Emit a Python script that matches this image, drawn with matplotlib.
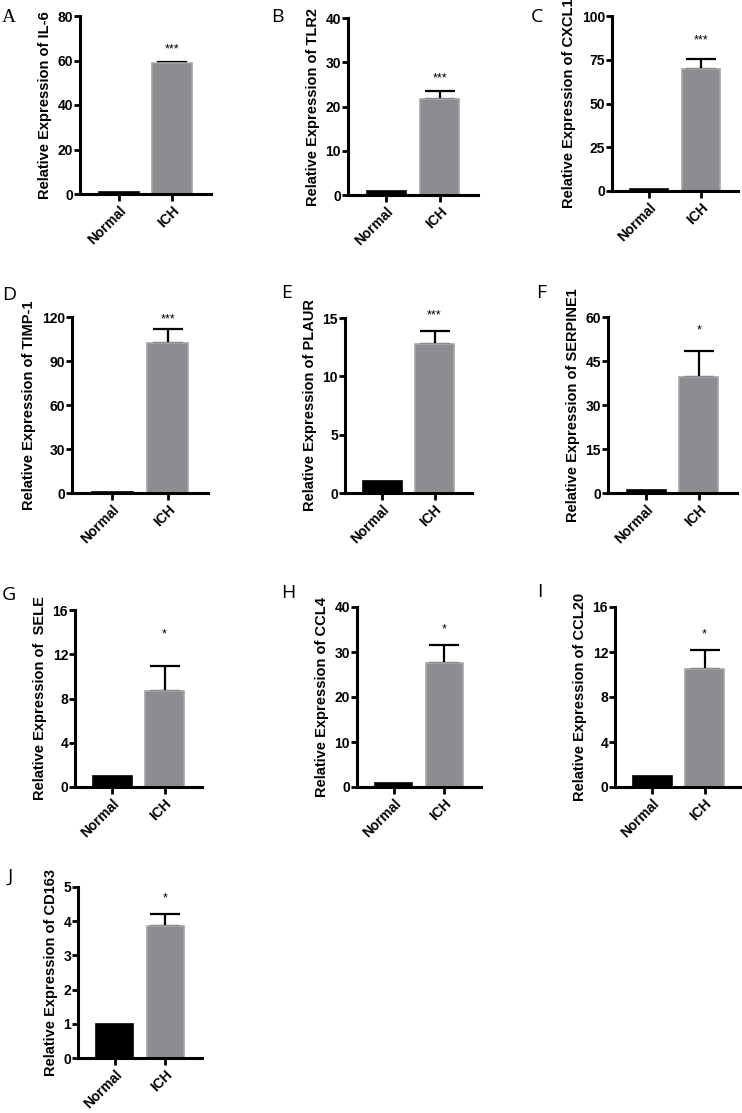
import matplotlib
matplotlib.use("Agg")
import matplotlib.pyplot as plt

groups = ["Normal", "ICH"]
genes = ["IL-6", "TLR2", "CXCL1", "TIMP-1", "PLAUR", "SERPINE1", " SELE", "CCL4", "CCL20", "CD163"]
letters = ["A", "B", "C", "D", "E", "F", "G", "H", "I", "J"]
normal_vals = [1, 1, 1, 1, 1, 1, 1, 1, 1, 1]
ich_vals = [59.0, 21.8, 70.0, 102.0, 12.8, 39.5, 8.7, 27.5, 10.5, 3.85]
ich_err = [0.3, 1.7, 5.5, 9.5, 1.1, 8.8, 2.2, 4.1, 1.7, 0.35]
stars = ["***", "***", "***", "***", "***", "*", "*", "*", "*", "*"]
y_max = [80, 40, 100, 120, 15, 60, 16, 40, 16, 5]
y_step = [20, 10, 25, 30, 5, 15, 4, 10, 4, 1]

W, H = 742, 1113
# axes boxes in pixels: left, right, top, bottom
boxes = [(80, 211, 16, 194), (348, 478, 18, 195), (612, 738, 16, 191),
         (72, 208, 317, 493), (345, 472, 318, 493), (608, 737, 317, 493),
         (75, 202, 610, 787), (357, 481, 607, 787), (615, 742, 607, 787),
         (78, 202, 887, 1058)]
letter_pos = [(2, 9), (271, 8), (531, 8), (2, 286), (281, 284), (536, 284),
              (2, 586), (281, 584), (537, 583), (8, 868)]
star_off = [5, 5, 9, 3, 7, 11, 19, 7, 7, 7]

fig = plt.figure(figsize=(W / 100, H / 100), dpi=100)

for i in range(10):
    l, r, t, b = boxes[i]
    ax = fig.add_axes([l / W, 1 - b / H, (r - l) / W, (b - t) / H])
    ax.errorbar([1], [ich_vals[i]], yerr=[[0], [ich_err[i]]], fmt="none",
                ecolor="black", elinewidth=1.6, capsize=10.5, capthick=1.6, zorder=1)
    ax.bar([0, 1], [normal_vals[i], ich_vals[i]], width=0.74,
           color=["black", "#8d8d91"], edgecolor=["black", "#a6a6aa"],
           linewidth=1.2, zorder=2)
    ax.annotate(stars[i], (1, ich_vals[i] + ich_err[i]), xytext=(0, star_off[i]),
                textcoords="offset points", ha="center", va="bottom",
                fontsize=9, family="Liberation Sans")
    ax.set_xlim(-0.72, 1.72)
    ax.set_ylim(0, y_max[i])
    ax.set_yticks(range(0, y_max[i] + 1, y_step[i]))
    ax.set_xticks([0, 1])
    ax.set_xticklabels(groups, rotation=45, ha="right", rotation_mode="anchor",
                       fontsize=10, fontweight="bold", family="Liberation Sans")
    for lab in ax.get_yticklabels():
        lab.set_fontsize(10)
        lab.set_fontweight("bold")
        lab.set_family("Liberation Sans")
    ax.set_ylabel("Relative Expression of " + genes[i], fontsize=10.5,
                  fontweight="bold", family="Liberation Sans", labelpad=4)
    for s in ["top", "right"]:
        ax.spines[s].set_visible(False)
    for s in ["left", "bottom"]:
        ax.spines[s].set_linewidth(2.2)
    ax.tick_params(axis="both", width=2, length=4, pad=1)
    ax.tick_params(axis="x", length=5, pad=2)

    lx, ly = letter_pos[i]
    fam = "Liberation Serif" if letters[i] == "A" else "Open Sans"
    fig.text(lx / W, 1 - ly / H, letters[i], fontsize=14, family=fam,
             ha="left", va="top")

fig.savefig("out.png", dpi=100)
